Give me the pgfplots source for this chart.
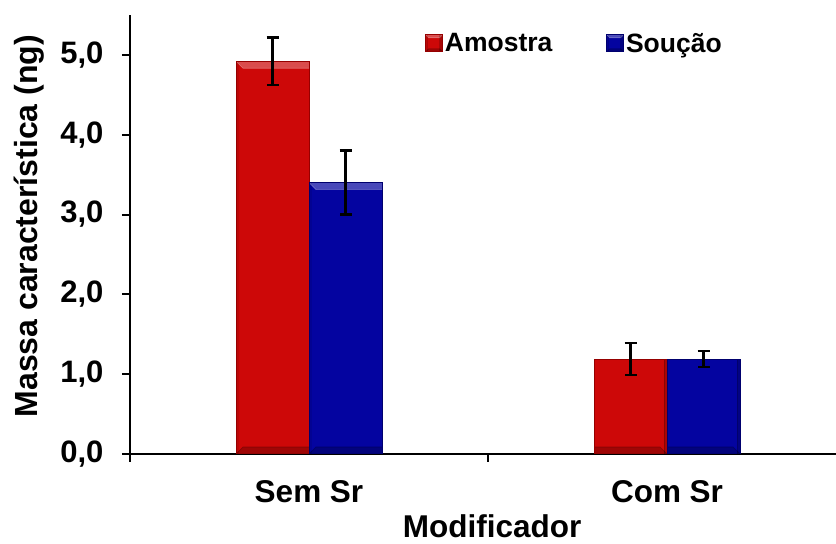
\documentclass[border=0pt]{standalone}
\usepackage{fontspec}
\setmainfont{Liberation Sans}
\usepackage{pgfplots}
\pgfplotsset{compat=1.18}

\definecolor{barred}{RGB}{205,8,8}
\definecolor{barredEdge}{RGB}{150,0,0}
\definecolor{barblue}{RGB}{4,4,160}
\definecolor{barblueEdge}{RGB}{0,0,110}

% bevelled look for the bars: light top edge, darker bottom and sides
\newif\ifinbevel
\def\bevelsz{7pt}
\tikzset{
  bevel/.style={
    path picture={%
      \ifinbevel\else
      \inbeveltrue
      \coordinate (bnw) at (path picture bounding box.north west);
      \coordinate (bne) at (path picture bounding box.north east);
      \coordinate (bsw) at (path picture bounding box.south west);
      \coordinate (bse) at (path picture bounding box.south east);
      \fill[white,opacity=0.28] (bnw) -- (bne) -- ([shift={(-\bevelsz,-\bevelsz)}]bne) -- ([shift={(\bevelsz,-\bevelsz)}]bnw) -- cycle;
      \fill[black,opacity=0.22] (bsw) -- (bse) -- ([shift={(-\bevelsz,\bevelsz)}]bse) -- ([shift={(\bevelsz,\bevelsz)}]bsw) -- cycle;
      \fill[black,opacity=0.18] (bne) -- (bse) -- ([xshift=-3pt]bse) -- ([xshift=-3pt]bne) -- cycle;
      \fill[black,opacity=0.08] (bnw) -- (bsw) -- ([xshift=2pt]bsw) -- ([xshift=2pt]bnw) -- cycle;
      \fi
    }
  }
}

\begin{document}
\begin{tikzpicture}
\begin{axis}[
  scale only axis,
  width=706pt, height=439pt,
  ybar=0pt, bar width=73pt,
  xmin=0, xmax=1.972,
  ymin=0, ymax=5.5,
  axis x line=bottom, axis y line=left,
  axis line style={-, line width=2.5pt, black},
  xtick={0,1}, xticklabels={},
  extra x ticks={0.5,1.5},
  extra x tick labels={Sem Sr, Com Sr},
  extra x tick style={major tick length=0pt,
    tick label style={font=\fontsize{31.5}{36}\selectfont\bfseries, yshift=-23pt}},
  ytick={0,1,2,3,4,5},
  tick align=outside,
  major tick length=8pt,
  tick style={line width=2pt, black},
  yticklabel style={font=\fontsize{31}{36}\selectfont\bfseries, xshift=-15pt},
  /pgf/number format/.cd, fixed, fixed zerofill, precision=1, use comma, assume math mode=true,
  /pgfplots/.cd,
  ylabel={Massa característica (ng)},
  ylabel style={font=\fontsize{32}{36}\selectfont\bfseries,
    at={(axis description cs:-0.1317,0.519)}, anchor=base},
  xlabel={Modificador},
  xlabel style={font=\fontsize{31.5}{36}\selectfont\bfseries,
    at={(axis description cs:0.513,-0.19)}, anchor=base},
  legend columns=2,
  legend style={draw=none, fill=none,
    at={(axis description cs:0.418,0.964)}, anchor=north west,
    font=\fontsize{26.5}{30}\selectfont\bfseries,
    /tikz/every even column/.append style={column sep=52pt},
    inner sep=0pt},
  legend image code/.code={
    \def\bevelsz{3pt}%
    \fill[#1] (0pt,-8.5pt) rectangle (17pt,8.5pt);
  },
  error bars/y dir=both, error bars/y explicit,
  error bars/error bar style={line width=2.5pt, black},
  error bars/error mark options={rotate=90, mark size=6pt, line width=2.5pt, black},
]
\coordinate (bl) at (rel axis cs:0,0);
\coordinate (tr) at (rel axis cs:1,1);

\addplot[fill=barred, draw=barredEdge, line width=0.6pt, bevel]
  coordinates {(0.5,4.92) +- (0,0.30) (1.5,1.19) +- (0,0.20)};
\addplot[fill=barblue, draw=barblueEdge, line width=0.6pt, bevel]
  coordinates {(0.5,3.40) +- (0,0.40) (1.5,1.19) +- (0,0.10)};
\legend{Amostra, Soução}
\end{axis}
\pgfresetboundingbox
\path[use as bounding box] ([shift={(-130pt,-90pt)}]bl) rectangle ([yshift=15pt]tr);
\end{tikzpicture}
\end{document}
